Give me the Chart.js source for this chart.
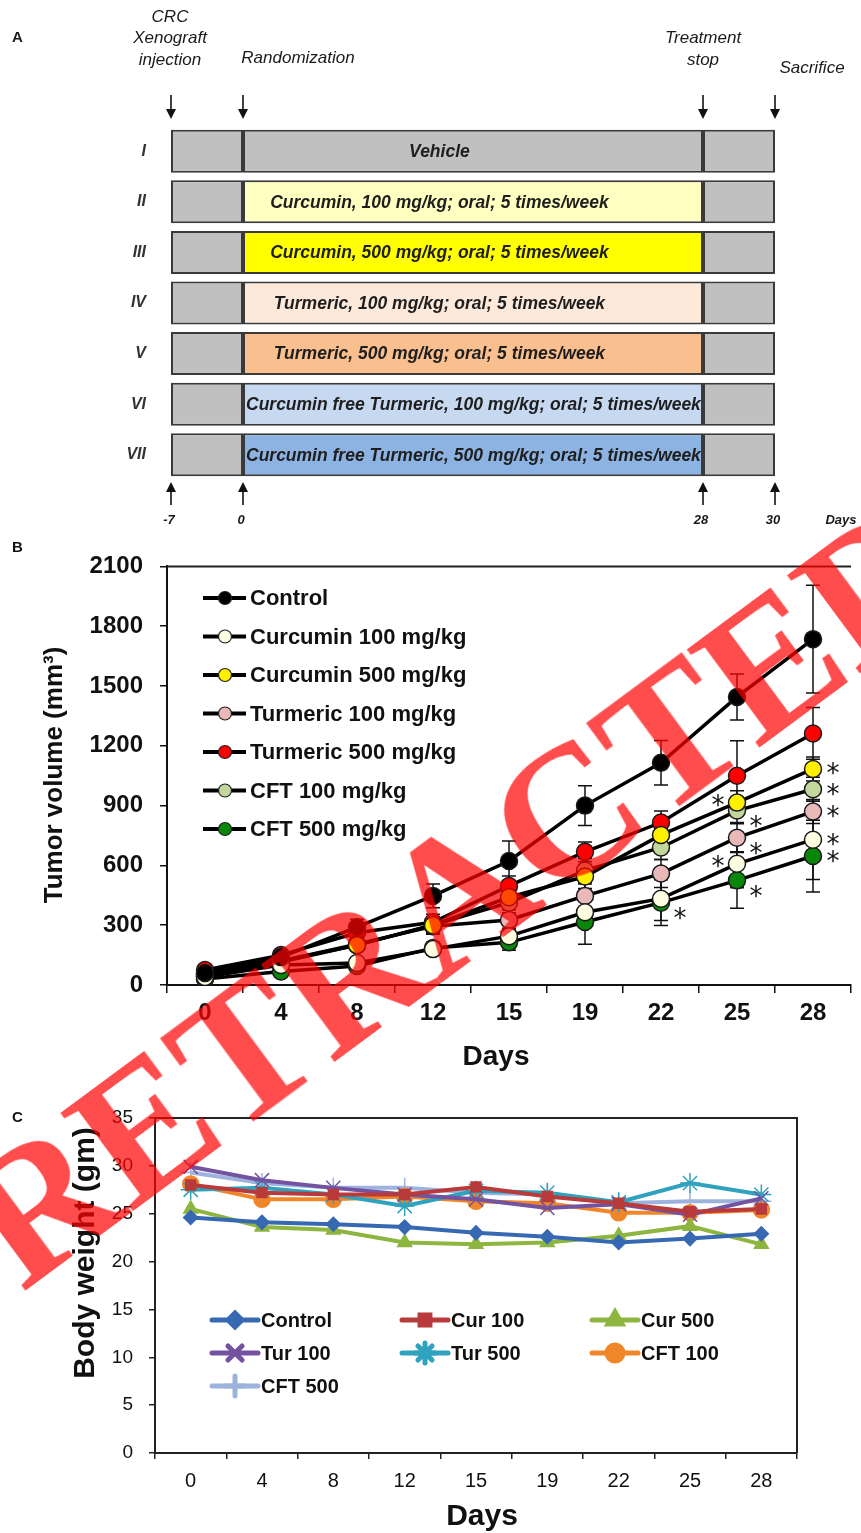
<!DOCTYPE html>
<html><head><meta charset="utf-8">
<script src="https://cdn.jsdelivr.net/npm/chart.js@4/dist/chart.umd.min.js"></script>
<style>
html,body{margin:0;padding:0;background:#fff;}
#wrap{position:relative;width:861px;height:1533px;overflow:hidden;background:#fff;}
canvas{position:absolute;left:0;}
#cA{top:0}#cB{top:535px}#cC{top:1060px}
#wm{position:absolute;left:456px;top:893px;transform:translate(-50%,-50%) rotate(-36.5deg);font-family:'Liberation Serif','Times New Roman',serif;font-weight:bold;font-size:187px;color:rgba(255,0,0,0.7);white-space:nowrap;line-height:1;pointer-events:none;}
</style></head>
<body><div id="wrap">
<canvas id="cA" width="861" height="535"></canvas>
<canvas id="cB" width="861" height="550"></canvas>
<canvas id="cC" width="861" height="473"></canvas>
<div id="wm">RETRACTED</div>
</div>
<script>
// ---------------- DATA ----------------
// Panel A (study design)
const groups = ['I','II','III','IV','V','VI','VII'];
const treatments = ['Vehicle','Curcumin, 100 mg/kg; oral; 5 times/week','Curcumin, 500 mg/kg; oral; 5 times/week','Turmeric, 100 mg/kg; oral; 5 times/week','Turmeric, 500 mg/kg; oral; 5 times/week','Curcumin free Turmeric, 100 mg/kg; oral; 5 times/week','Curcumin free Turmeric, 500 mg/kg; oral; 5 times/week'];
const timelineDays = [-7, 0, 28, 30];
const timelineTickLabels = ['-7','0','28','30'];
const timelineEvents = [['CRC','Xenograft','injection'],['Randomization'],['Treatment','stop'],['Sacrifice']];

// Panel B (tumor volume, mm3)
const daysB = ['0','4','8','12','15','19','22','25','28'];
const namesB = ['Control','Curcumin 100 mg/kg','Curcumin 500 mg/kg','Turmeric 100 mg/kg','Turmeric 500 mg/kg','CFT 100 mg/kg','CFT 500 mg/kg'];
const controlB = [60, 140, 290, 447, 622, 900, 1115, 1445, 1735];
const cur100B  = [40, 100, 110, 180, 245, 365, 433, 608, 729];
const cur500B  = [50, 120, 200, 300, 440, 544, 753, 915, 1084];
const tur100B  = [55, 120, 205, 295, 326, 447, 559, 739, 870];
const tur500B  = [75, 150, 262, 315, 497, 668, 815, 1050, 1262];
const cft100B  = [45, 115, 200, 301, 413, 574, 690, 875, 982];
const cft500B  = [30, 68, 95, 185, 214, 316, 413, 525, 647];
const controlErr = [10, 20, 40, 60, 100, 100, 112, 115, 270];
const cur100Err  = [8, 15, 20, 30, 40, 60, 110, 120, 200];
const cur500Err  = [8, 15, 25, 40, 50, 60, 60, 60, 60];
const tur100Err  = [8, 15, 25, 40, 50, 60, 70, 70, 60];
const tur500Err  = [10, 20, 40, 40, 50, 50, 58, 175, 130];
const cft100Err  = [8, 15, 25, 40, 50, 60, 60, 60, 60];
const cft500Err  = [8, 15, 20, 30, 40, 112, 115, 140, 180];
// significance marks: series index, day index, side
const asterisks = [
  {s:2,d:8,side:'right'},{s:5,d:8,side:'right'},{s:3,d:8,side:'right'},{s:1,d:8,side:'right'},{s:6,d:8,side:'right'},
  {s:2,d:7,side:'left'},{s:5,d:7,side:'lowright'},{s:3,d:7,side:'lowright'},{s:1,d:7,side:'left'},{s:6,d:7,side:'lowright'},
  {s:6,d:6,side:'lowright'}
];

// Panel C (body weight, gm)
const daysC = ['0','4','8','12','15','19','22','25','28'];
const namesC = ['Control','Cur 100','Cur 500','Tur 100','Tur 500','CFT 100','CFT 500'];
const controlC = [24.6, 24.1, 23.9, 23.6, 23.0, 22.6, 22.0, 22.4, 22.9];
const cur100C  = [28.0, 27.2, 27.0, 27.0, 27.8, 26.8, 26.1, 25.2, 25.5];
const cur500C  = [25.5, 23.6, 23.3, 22.0, 21.8, 22.0, 22.7, 23.7, 21.8];
const tur100C  = [29.9, 28.5, 27.7, 27.0, 26.5, 25.6, 26.0, 24.9, 26.6];
const tur500C  = [27.5, 27.7, 27.0, 25.8, 27.4, 27.2, 26.2, 28.2, 27.0];
const cft100C  = [28.1, 26.5, 26.5, 26.8, 26.3, 26.1, 25.1, 25.1, 25.4];
const cft500C  = [29.3, 28.2, 27.7, 27.7, 27.2, 27.0, 26.1, 26.3, 26.3];

// ---------------- SETUP ----------------
const SANS = "'Liberation Sans', Arial, Helvetica, sans-serif";
Chart.defaults.font.family = SANS;
Chart.defaults.color = '#111';

// Piecewise-linear (schematic) timeline scale
const LinearScale = Chart.registry.getScale('linear');
class SchematicScale extends LinearScale {
  _dec(v){
    const b = this.options.breaks, f = this.options.fractions, n = b.length - 1;
    if (v <= b[0]) return f[0] + (v - b[0]) * (f[1] - f[0]) / (b[1] - b[0]);
    for (let i = 0; i < n; i++) if (v <= b[i+1]) return f[i] + (v - b[i]) * (f[i+1] - f[i]) / (b[i+1] - b[i]);
    return f[n] + (v - b[n]) * (f[n] - f[n-1]) / (b[n] - b[n-1]);
  }
  getPixelForValue(v){ return this.getPixelForDecimal(this._dec(v)); }
  getValueForPixel(p){
    const d = this.getDecimalForPixel(p), b = this.options.breaks, f = this.options.fractions;
    for (let i = 0; i < b.length - 1; i++) if (d <= f[i+1] || i === b.length - 2) return b[i] + (d - f[i]) * (b[i+1] - b[i]) / (f[i+1] - f[i]);
    return b[0];
  }
}
SchematicScale.id = 'schematic';
SchematicScale.defaults = {};
Chart.register(SchematicScale);

function arrow(ctx, x, y0, y1){
  const dir = Math.sign(y1 - y0);
  ctx.beginPath(); ctx.moveTo(x, y0); ctx.lineTo(x, y1 - dir * 8); ctx.stroke();
  ctx.beginPath(); ctx.moveTo(x - 5, y1 - dir * 10); ctx.lineTo(x + 5, y1 - dir * 10); ctx.lineTo(x, y1); ctx.closePath(); ctx.fill();
}
const plainNumber = v => String(v);

// ---------------- PANEL A ----------------
const treatmentColors = ['#c0c0c0','#ffffc2','#ffff00','#fde9da','#f9bf8f','#c6d9f1','#8db3e2'];
const eventLabelOffsets = [[-1,0],[55,-2],[0,0],[37,8]];
const panelAPlugin = {
  id: 'panelA',
  afterDraw(chart){
    const {ctx, scales:{x, y}} = chart;
    ctx.save();
    const s = x.getPixelForValue(timelineDays[1]), e = x.getPixelForValue(timelineDays[2]);
    ctx.font = `italic bold 17.5px ${SANS}`;
    ctx.fillStyle = '#1e1e1e'; ctx.textBaseline = 'middle'; ctx.textAlign = 'center';
    treatments.forEach((t, i) => {
      const cy = y.getPixelForValue(i);
      const w = ctx.measureText(t).width;
      let cx = s + 0.427 * (e - s);
      if (cx - w / 2 < s + 3) cx = s + 3 + w / 2;
      ctx.fillText(t, cx, cy + 1);
    });
    ctx.strokeStyle = '#111'; ctx.fillStyle = '#111'; ctx.lineWidth = 1.6;
    timelineDays.forEach((d) => {
      const px = x.getPixelForValue(d);
      arrow(ctx, px, 95, 119);
      arrow(ctx, px, 505, 482);
    });
    ctx.font = `italic 17px ${SANS}`;
    ctx.fillStyle = '#1a1a1a';
    timelineEvents.forEach((lines, i) => {
      const px = x.getPixelForValue(timelineDays[i]) + eventLabelOffsets[i][0];
      const last = 60 + eventLabelOffsets[i][1];
      lines.forEach((ln, j) => ctx.fillText(ln, px, last - (lines.length - 1 - j) * 21.5));
    });
    ctx.font = `italic bold 13px ${SANS}`;
    timelineTickLabels.forEach((t, i) => ctx.fillText(t, x.getPixelForValue(timelineDays[i]) - 2, 520));
    ctx.fillText('Days', x.right + 66, 520);
    ctx.font = `bold 15px ${SANS}`; ctx.textAlign = 'left';
    ctx.fillText('A', 12, 38);
    ctx.restore();
  }
};
new Chart(document.getElementById('cA'), {
  type: 'bar',
  data: {
    labels: groups,
    datasets: [
      {label: 'Pre-treatment', data: groups.map(() => [timelineDays[0], timelineDays[1]]), backgroundColor: '#c0c0c0'},
      {label: 'Treatment', data: groups.map(() => [timelineDays[1], timelineDays[2]]), backgroundColor: treatmentColors},
      {label: 'Post-treatment', data: groups.map(() => [timelineDays[2], timelineDays[3]]), backgroundColor: '#c0c0c0'}
    ]
  },
  options: {
    indexAxis: 'y', responsive: false, animation: false, events: [], devicePixelRatio: 1,
    layout: {padding: {top: 126, bottom: 55, right: 86, left: 0}},
    datasets: {bar: {grouped: false, borderColor: '#3a3a3a', borderWidth: 2, borderSkipped: false, categoryPercentage: 1, barPercentage: 0.85}},
    plugins: {legend: {display: false}, tooltip: {enabled: false}},
    scales: {
      x: {type: 'schematic', min: timelineDays[0], max: timelineDays[3], breaks: timelineDays, fractions: [0, 0.1192, 0.8808, 1], display: false},
      y: {type: 'category', grid: {display: false, drawTicks: false}, border: {display: false},
          ticks: {font: {size: 16, style: 'italic', weight: 'bold'}, color: '#333', padding: 25},
          afterFit(s){ s.width = 171; }}
    }
  },
  plugins: [panelAPlugin]
});

// ---------------- PANEL B ----------------
const seriesB = [controlB, cur100B, cur500B, tur100B, tur500B, cft100B, cft500B];
const errorsB = [controlErr, cur100Err, cur500Err, tur100Err, tur500Err, cft100Err, cft500Err];
const fillsB = ['#000000','#fdfde2','#fff000','#e8b9b8','#ff0000','#c3d69b','#0a870a'];
const panelBPlugin = {
  id: 'panelB',
  beforeDatasetsDraw(chart){
    const {ctx, scales:{x, y}} = chart;
    ctx.save(); ctx.strokeStyle = '#111'; ctx.lineWidth = 1.5;
    seriesB.forEach((vals, si) => vals.forEach((v, di) => {
      const e = errorsB[si][di]; if (!e) return;
      const px = x.getPixelForValue(di), t = y.getPixelForValue(v + e), b = y.getPixelForValue(v - e);
      ctx.beginPath();
      ctx.moveTo(px, t); ctx.lineTo(px, b);
      ctx.moveTo(px - 7, t); ctx.lineTo(px + 7, t);
      ctx.moveTo(px - 7, b); ctx.lineTo(px + 7, b);
      ctx.stroke();
    }));
    ctx.restore();
  },
  afterDatasetsDraw(chart){
    const {ctx, scales:{x, y}} = chart;
    ctx.save();
    ctx.font = `26px 'DejaVu Sans', sans-serif`; ctx.fillStyle = '#111'; ctx.textAlign = 'center'; ctx.textBaseline = 'alphabetic';
    const m = ctx.measureText('*');
    const mid = (m.actualBoundingBoxAscent - m.actualBoundingBoxDescent) / 2;
    asterisks.forEach(a => {
      const px = x.getPixelForValue(a.d), py = y.getPixelForValue(seriesB[a.s][a.d]);
      let ax = px + 20, ay = py;
      if (a.side === 'left') { ax = px - 19; ay = py - 2; }
      if (a.side === 'lowright') { ax = px + 19; ay = py + 11; }
      ctx.fillText('*', ax, ay + mid);
    });
    ctx.restore();
  },
  afterDraw(chart){
    const {ctx, chartArea:{left, right, top}} = chart;
    ctx.save();
    ctx.strokeStyle = '#222'; ctx.lineWidth = 2;
    ctx.beginPath(); ctx.moveTo(left, top); ctx.lineTo(right, top); ctx.stroke();
    // legend
    chart.data.datasets.forEach((ds, i) => {
      const ly = 63 + i * 38.5;
      ctx.strokeStyle = '#000'; ctx.lineWidth = 4;
      ctx.beginPath(); ctx.moveTo(203, ly); ctx.lineTo(246, ly); ctx.stroke();
      ctx.beginPath(); ctx.arc(225, ly, 6.5, 0, Math.PI * 2);
      ctx.fillStyle = ds.pointBackgroundColor; ctx.fill();
      ctx.lineWidth = 1.2; ctx.strokeStyle = '#222'; ctx.stroke();
      ctx.fillStyle = '#111'; ctx.font = `bold 22px ${SANS}`; ctx.textBaseline = 'middle'; ctx.textAlign = 'left';
      ctx.fillText(ds.label, 250, ly + 1);
    });
    // titles
    ctx.fillStyle = '#111'; ctx.textAlign = 'center'; ctx.textBaseline = 'middle';
    ctx.font = `bold 28px ${SANS}`;
    ctx.fillText('Days', 496, 522);
    ctx.save(); ctx.translate(55, 240); ctx.rotate(-Math.PI / 2);
    ctx.font = `bold 26px ${SANS}`;
    ctx.fillText('Tumor volume (mm³)', 0, 0);
    ctx.restore();
    ctx.font = `bold 15px ${SANS}`; ctx.textAlign = 'left';
    ctx.fillText('B', 12, 13);
    ctx.restore();
  }
};
new Chart(document.getElementById('cB'), {
  type: 'line',
  data: {
    labels: daysB,
    datasets: seriesB.map((d, i) => ({
      label: namesB[i], data: d, borderColor: '#000', borderWidth: 3.5,
      pointBackgroundColor: fillsB[i], pointBorderColor: '#1a1a1a', pointBorderWidth: 1.5, pointRadius: 8.5, tension: 0
    }))
  },
  options: {
    responsive: false, animation: false, events: [], devicePixelRatio: 1,
    layout: {padding: {top: 18, right: 0, left: 0, bottom: 0}},
    plugins: {legend: {display: false}, tooltip: {enabled: false}},
    scales: {
      x: {type: 'category', offset: true,
          grid: {offset: true, drawOnChartArea: false, tickLength: 8, color: '#111', lineWidth: 1.5},
          border: {color: '#111', width: 2},
          ticks: {font: {size: 24, weight: 'bold'}, color: '#111', padding: 6, maxRotation: 0, autoSkip: false},
          afterFit(s){ s.height = 100; }},
      y: {min: 0, max: 2100,
          grid: {drawOnChartArea: false, tickLength: 7, color: '#111', lineWidth: 1.5},
          border: {color: '#111', width: 2},
          ticks: {stepSize: 300, font: {size: 24, weight: 'bold'}, color: '#111', padding: 17, callback: plainNumber},
          afterFit(s){ s.width = 167; }}
    }
  },
  plugins: [panelBPlugin]
});

// ---------------- PANEL C ----------------
const seriesC = [controlC, cur100C, cur500C, tur100C, tur500C, cft100C, cft500C];
const colorsC = ['#3769b2','#b93a3a','#8db53f','#7352a0','#2fa2be','#f0862a','#9db3dd'];
const stylesC = [
  {pointStyle: 'rectRot', radius: 7},
  {pointStyle: 'rect', radius: 7},
  {pointStyle: 'triangle', radius: 8},
  {pointStyle: 'crossRot', radius: 10},
  {pointStyle: 'star', radius: 10},
  {pointStyle: 'circle', radius: 8},
  {pointStyle: 'cross', radius: 10}
];
const panelCPlugin = {
  id: 'panelC',
  afterDraw(chart){
    const {ctx, chartArea:{left, right, top, bottom}} = chart;
    ctx.save();
    ctx.strokeStyle = '#222'; ctx.lineWidth = 2;
    ctx.beginPath(); ctx.moveTo(left, top); ctx.lineTo(right, top); ctx.lineTo(right, bottom); ctx.stroke();
    // legend (3 columns)
    chart.data.datasets.forEach((ds, i) => {
      const col = i % 3, row = Math.floor(i / 3);
      const lx = 212 + col * 190, ly = 260 + row * 33;
      ctx.strokeStyle = ds.borderColor; ctx.lineWidth = 5; ctx.lineCap = 'round';
      ctx.beginPath(); ctx.moveTo(lx, ly); ctx.lineTo(lx + 46, ly); ctx.stroke();
      ctx.fillStyle = ds.borderColor; ctx.strokeStyle = ds.borderColor;
      Chart.helpers.drawPoint(ctx, {pointStyle: ds.pointStyle, radius: ds.pointRadius, rotation: 0, borderWidth: 1.5}, lx + 23, ly);
      ctx.fillStyle = '#111'; ctx.font = `bold 20px ${SANS}`; ctx.textBaseline = 'middle'; ctx.textAlign = 'left';
      ctx.fillText(ds.label, lx + 49, ly + 1);
    });
    ctx.fillStyle = '#111'; ctx.textAlign = 'center'; ctx.textBaseline = 'middle';
    ctx.font = `bold 30px ${SANS}`;
    ctx.fillText('Days', 482, 457);
    ctx.save(); ctx.translate(86, 193); ctx.rotate(-Math.PI / 2);
    ctx.font = `bold 30px ${SANS}`;
    ctx.fillText('Body weight (gm)', 0, 0);
    ctx.restore();
    ctx.font = `bold 15px ${SANS}`; ctx.textAlign = 'left';
    ctx.fillText('C', 12, 58);
    ctx.restore();
  }
};
new Chart(document.getElementById('cC'), {
  type: 'line',
  data: {
    labels: daysC,
    datasets: seriesC.map((d, i) => ({
      label: namesC[i], data: d, borderColor: colorsC[i], backgroundColor: colorsC[i], borderWidth: 4,
      pointStyle: stylesC[i].pointStyle, pointRadius: stylesC[i].radius,
      pointBackgroundColor: colorsC[i], pointBorderColor: colorsC[i], pointBorderWidth: 1.5, tension: 0
    }))
  },
  options: {
    responsive: false, animation: false, events: [], devicePixelRatio: 1,
    layout: {padding: {top: 58, right: 64, left: 0, bottom: 0}},
    plugins: {legend: {display: false}, tooltip: {enabled: false}},
    scales: {
      x: {type: 'category', offset: true,
          grid: {offset: true, drawOnChartArea: false, tickLength: 6, color: '#222', lineWidth: 1.5},
          border: {color: '#222', width: 2},
          ticks: {font: {size: 20}, color: '#111', padding: 10, maxRotation: 0, autoSkip: false},
          afterFit(s){ s.height = 80; }},
      y: {min: 0, max: 35,
          grid: {drawOnChartArea: false, tickLength: 6, color: '#222', lineWidth: 1.5},
          border: {color: '#222', width: 2},
          ticks: {stepSize: 5, font: {size: 19}, color: '#111', padding: 16, callback: plainNumber},
          afterFit(s){ s.width = 155; }}
    }
  },
  plugins: [panelCPlugin]
});
</script>
</body></html>
